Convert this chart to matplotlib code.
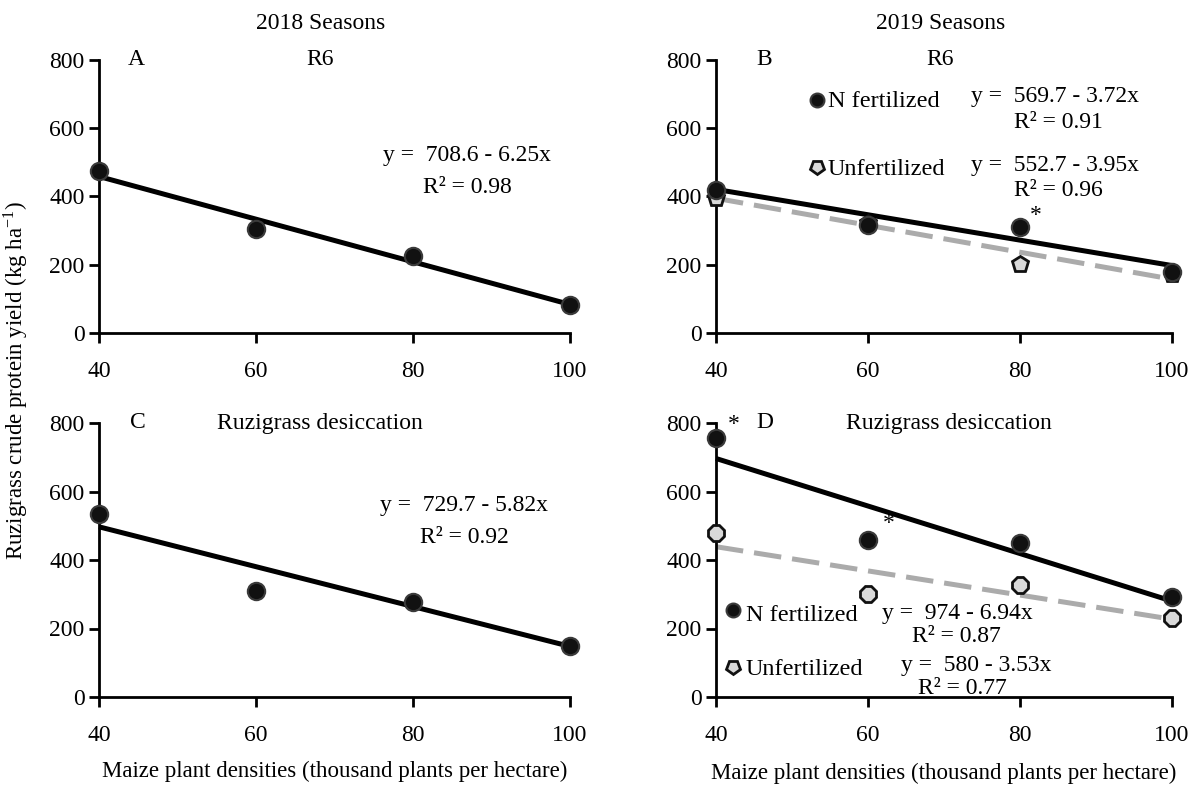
import matplotlib
matplotlib.use("Agg")
import matplotlib.pyplot as plt
from matplotlib.markers import MarkerStyle
from matplotlib.transforms import Affine2D
import numpy as np

plt.rcParams['font.family'] = ['Liberation Serif', 'DejaVu Serif']
plt.rcParams['mathtext.fontset'] = 'stix'
plt.rcParams['font.size'] = 17

densities = [40, 60, 80, 100]

# Panel A: 2018, R6
a_vals = [474, 304, 225, 83]
a_fit = (708.6, -6.25)
# Panel B: 2019, R6
b_nfert = [419, 316, 310, 178]
b_unfert = [396, 322, 202, 172]
b_fit_n = (569.7, -3.72)
b_fit_u = (552.7, -3.95)
# Panel C: 2018, desiccation
c_vals = [535, 310, 278, 150]
c_fit = (729.7, -5.82)
# Panel D: 2019, desiccation
d_nfert = [755, 458, 450, 292]
d_unfert = [479, 300, 326, 232]
d_fit_n = (974.0, -6.94)
d_fit_u = (580.0, -3.53)

yticks = [0, 200, 400, 600, 800]
xticks = [40, 60, 80, 100]

W, H = 1194, 786
fig = plt.figure(figsize=(W / 100, H / 100), dpi=100)


def add_ax(l, r, top, bot):
    return fig.add_axes([l / W, 1 - bot / H, (r - l) / W, (bot - top) / H])


axA = add_ax(99, 570, 60, 333)
axB = add_ax(716, 1172, 60, 333)
axC = add_ax(99, 570, 423, 697)
axD = add_ax(716, 1172, 423, 697)

for ax in (axA, axB, axC, axD):
    ax.set_xlim(40, 100)
    ax.set_ylim(0, 800)
    ax.set_xticks(xticks)
    ax.set_yticks(yticks)
    for s in ('top', 'right'):
        ax.spines[s].set_visible(False)
    for s in ('left', 'bottom'):
        ax.spines[s].set_linewidth(2)
    ax.tick_params(direction='out', length=7, width=2, labelsize=17, colors='black')
    ax.tick_params(axis='x', pad=13)
    ax.tick_params(axis='y', pad=3.5)

xs = np.array([40, 100])
BLACK = '#111111'
GREY = '#ababab'
LIGHT = '#d9d9d9'
LEG_PENT = MarkerStyle('p', transform=Affine2D().rotate_deg(180))


def fit_line(ax, fit, style, color):
    kw = dict(color=color, lw=3.6, zorder=2, clip_on=False)
    if style == '--':
        ax.plot(xs, fit[0] + fit[1] * xs, linestyle='--', dashes=(5.5, 2.2), **kw)
    else:
        ax.plot(xs, fit[0] + fit[1] * xs, linestyle='-', solid_capstyle='butt', **kw)


def npts(ax, vals, marker='o'):
    ax.plot(densities, vals, linestyle='none', marker=marker, ms=12.5, mfc=BLACK,
            mec='#3a3a3a', mew=1.5, zorder=4, clip_on=False)


def upts(ax, vals, marker='p'):
    ax.plot(densities, vals, linestyle='none', marker=marker, ms=12, mfc=LIGHT,
            mec=BLACK, mew=2, zorder=3, clip_on=False)


# A
fit_line(axA, a_fit, '-', 'black')
npts(axA, a_vals)
axA.text(86.9, 519, 'y =  708.6 - 6.25x', ha='center', va='center')
axA.text(86.9, 427, 'R² = 0.98', ha='center', va='center')
axA.text(44.8, 800, 'A', ha='center', va='center')
axA.text(68.2, 800, 'R6', ha='center', va='center')
axA.text(68.2, 908, '2018 Seasons', ha='center', va='center')

# B
fit_line(axB, b_fit_u, '--', GREY)
fit_line(axB, b_fit_n, '-', 'black')
upts(axB, b_unfert, 'p')
npts(axB, b_nfert)
axB.text(81.3, 345, '*', ha='left', va='center', fontsize=17)
axB.plot([53.3], [683], marker='o', ms=10, mfc=BLACK, mec='#3a3a3a', mew=1.5, clip_on=False)
axB.text(54.7, 677, 'N fertilized', ha='left', va='center', fontsize=17.5)
axB.plot([53.3], [486], marker=LEG_PENT, ms=10, mfc=LIGHT, mec=BLACK, mew=2, clip_on=False)
axB.text(54.7, 480, 'Unfertilized', ha='left', va='center', fontsize=17.5)
axB.text(84.6, 692, 'y =  569.7 - 3.72x', ha='center', va='center')
axB.text(85.1, 617, 'R² = 0.91', ha='center', va='center')
axB.text(84.6, 492, 'y =  552.7 - 3.95x', ha='center', va='center')
axB.text(85.1, 419, 'R² = 0.96', ha='center', va='center')
axB.text(46.4, 800, 'B', ha='center', va='center')
axB.text(69.5, 800, 'R6', ha='center', va='center')
axB.text(69.5, 908, '2019 Seasons', ha='center', va='center')

# C
fit_line(axC, c_fit, '-', 'black')
npts(axC, c_vals)
axC.text(86.5, 559, 'y =  729.7 - 5.82x', ha='center', va='center')
axC.text(86.5, 467, 'R² = 0.92', ha='center', va='center')
axC.text(45.0, 800, 'C', ha='center', va='center')
axC.text(68.2, 800, 'Ruzigrass desiccation', ha='center', va='center')

# D
fit_line(axD, d_fit_u, '--', GREY)
fit_line(axD, d_fit_n, '-', 'black')
upts(axD, d_unfert, '8')
npts(axD, d_nfert)
axD.text(41.6, 795, '*', ha='left', va='center', fontsize=17)
axD.text(61.9, 508, '*', ha='left', va='center', fontsize=17)
axD.plot([42.2], [254], marker='o', ms=10, mfc=BLACK, mec='#3a3a3a', mew=1.5, clip_on=False)
axD.text(43.9, 239, 'N fertilized', ha='left', va='center', fontsize=17.5)
axD.plot([42.2], [88], marker=LEG_PENT, ms=10, mfc=LIGHT, mec=BLACK, mew=2, clip_on=False)
axD.text(43.9, 79, 'Unfertilized', ha='left', va='center', fontsize=17.5)
axD.text(71.8, 245, 'y =  974 - 6.94x', ha='center', va='center')
axD.text(71.6, 178, 'R² = 0.87', ha='center', va='center')
axD.text(74.3, 93, 'y =  580 - 3.53x', ha='center', va='center')
axD.text(72.4, 26, 'R² = 0.77', ha='center', va='center')
axD.text(46.4, 800, 'D', ha='center', va='center')
axD.text(70.7, 800, 'Ruzigrass desiccation', ha='center', va='center')

axC.set_xlabel('Maize plant densities (thousand plants per hectare)', fontsize=16.5, labelpad=11)
axD.set_xlabel('Maize plant densities (thousand plants per hectare)', fontsize=16.5, labelpad=12)

fig.text(16 / W, 1 - 380 / H, r'Ruzigrass crude protein yield (kg ha$^{\mathregular{-1}}$)',
         rotation=90, ha='center', va='center', fontsize=16.5)

fig.savefig('out.png', dpi=100, facecolor='white')
